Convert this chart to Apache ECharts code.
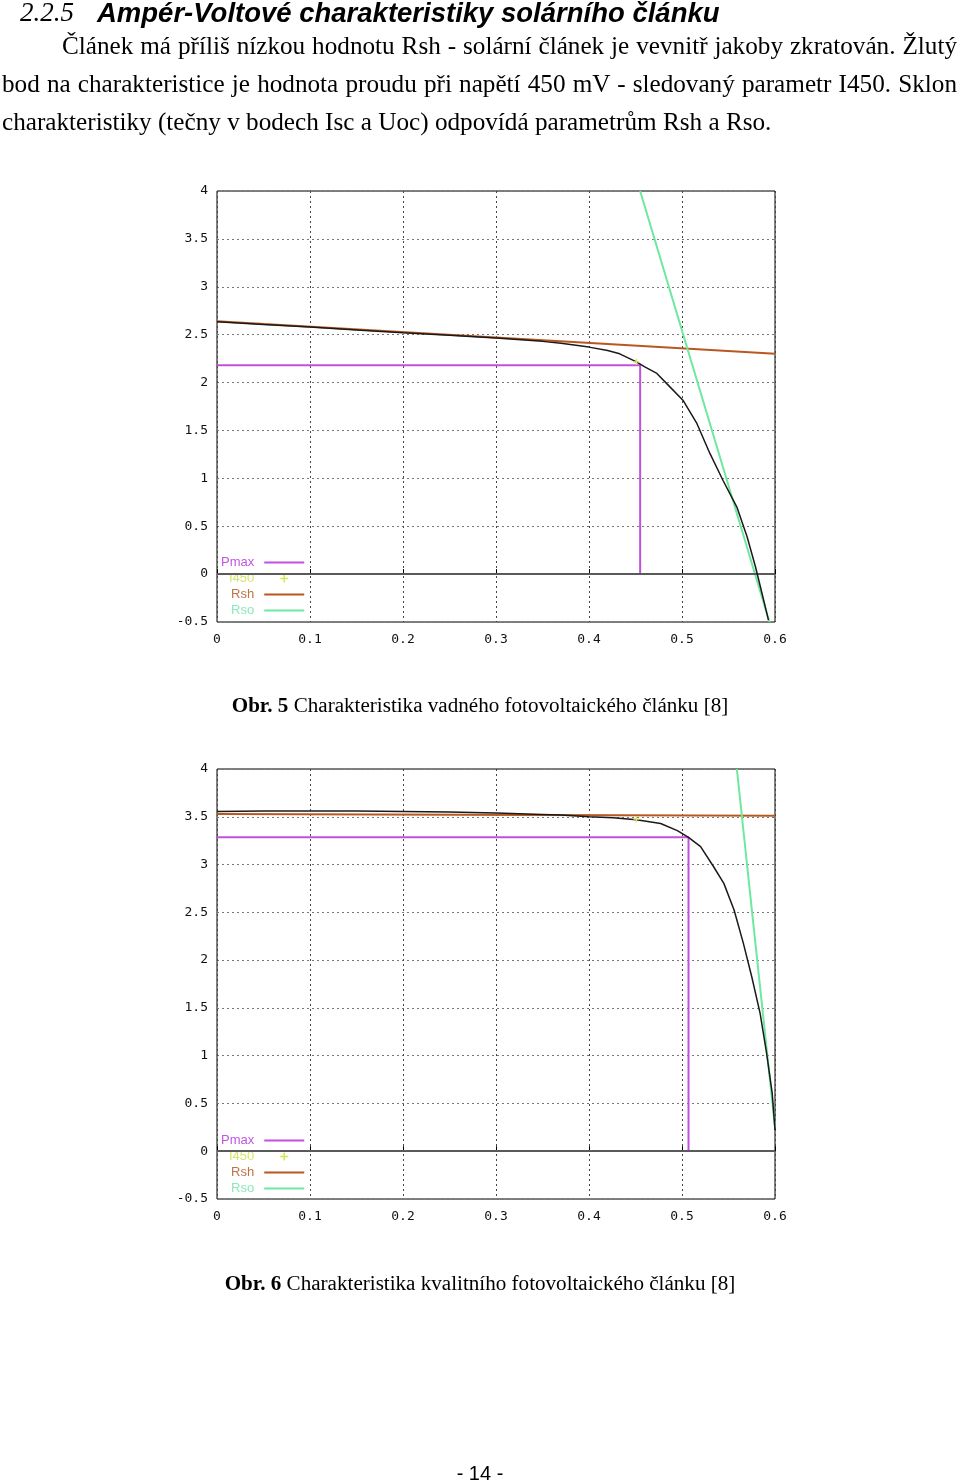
<!DOCTYPE html>
<html><head><meta charset="utf-8">
<script src="https://cdn.jsdelivr.net/npm/echarts@6/dist/echarts.min.js"></script>
<style>
html,body{margin:0;padding:0;background:#fff;width:960px;height:1483px;overflow:hidden;}
#chart{position:absolute;left:0;top:0;width:960px;height:1483px;}
.t{position:absolute;white-space:nowrap;color:#000;}
.serif{font-family:"Liberation Serif","Times New Roman",serif;}
.sans{font-family:"Liberation Sans",Arial,sans-serif;}
.j{text-align:justify;text-align-last:justify;white-space:normal;}
</style></head><body>
<div id="chart"></div>
<div class="t serif" style="left:20px;top:-1px;font-size:27px;line-height:27px;font-style:italic;">2.2.5</div>
<div class="t sans" style="left:97px;top:-1px;font-size:27.5px;line-height:27px;font-style:italic;font-weight:bold;">Ampér-Voltové charakteristiky solárního článku</div>
<div class="t serif j" style="left:62px;width:895px;top:27px;font-size:25.2px;line-height:38px;">Článek má příliš nízkou hodnotu Rsh - solární článek je vevnitř jakoby zkratován. Žlutý</div>
<div class="t serif j" style="left:2px;width:955px;top:65px;font-size:25.2px;line-height:38px;">bod na charakteristice je hodnota proudu při napětí 450 mV - sledovaný parametr I450. Sklon</div>
<div class="t serif" style="left:2px;top:103px;font-size:25.2px;line-height:38px;">charakteristiky (tečny v bodech Isc a Uoc) odpovídá parametrům Rsh a Rso.</div>
<div class="t serif" style="left:0;width:960px;text-align:center;top:693px;font-size:21.1px;line-height:24px;"><b>Obr. 5</b> Charakteristika vadného fotovoltaického článku [8]</div>
<div class="t serif" style="left:0;width:960px;text-align:center;top:1271px;font-size:21.1px;line-height:24px;"><b>Obr. 6</b> Charakteristika kvalitního fotovoltaického článku [8]</div>
<div class="t sans" style="left:0;width:960px;text-align:center;top:1461px;font-size:20px;line-height:24px;">- 14 -</div>
<script>
// ---- Obr. 5 (defective cell) ----
const c1V = [0, 0.05, 0.1, 0.15, 0.2, 0.25, 0.3, 0.35, 0.37, 0.4, 0.42, 0.433, 0.451, 0.46, 0.473, 0.487, 0.501, 0.516, 0.53, 0.544, 0.559, 0.57, 0.579, 0.586, 0.593];
const c1I = [2.635, 2.605, 2.58, 2.55, 2.52, 2.495, 2.465, 2.43, 2.41, 2.37, 2.335, 2.30, 2.216, 2.164, 2.095, 1.955, 1.816, 1.573, 1.26, 0.98, 0.70, 0.39, 0.077, -0.20, -0.48];
const c1RshV = [0, 0.6];
const c1RshI = [2.64, 2.30];
const c1RsoV = [0.455, 0.594];
const c1RsoI = [4.0, -0.5];
const c1PmaxV = [0, 0.455, 0.455];
const c1PmaxI = [2.18, 2.18, 0];
const c1I450V = [0.451];
const c1I450I = [2.216];

// ---- Obr. 6 (good cell) ----
const c2V = [0, 0.05, 0.1, 0.15, 0.2, 0.25, 0.3, 0.35, 0.37, 0.4, 0.426, 0.451, 0.477, 0.495, 0.507, 0.52, 0.534, 0.545, 0.556, 0.566, 0.575, 0.584, 0.591, 0.597, 0.6];
const c2I = [3.555, 3.56, 3.56, 3.56, 3.555, 3.55, 3.54, 3.525, 3.518, 3.50, 3.49, 3.47, 3.43, 3.355, 3.285, 3.187, 2.977, 2.803, 2.524, 2.175, 1.826, 1.443, 1.024, 0.606, 0.222];
const c2RshV = [0, 0.6];
const c2RshI = [3.53, 3.51];
const c2RsoV = [0.559, 0.6];
const c2RsoI = [4.0, 0.25];
const c2PmaxV = [0, 0.507, 0.507];
const c2PmaxI = [3.285, 3.285, 0];
const c2I450V = [0.451];
const c2I450I = [3.475];

// axis settings
const xMin = 0, xMax = 0.6, xStep = 0.1;
const yMin = -0.5, yMax = 4, yStep = 0.5;
const legendNames = ['Pmax', 'I450', 'Rsh', 'Rso'];

const COL = { curve: '#1a1a1a', rsh: '#b8571f', rso: '#6ee89e', pmax: '#c150e0', i450: '#d6e850' };
const LEG_TXT = { Pmax: '#c255e2', I450: '#d4e66a', Rsh: '#c07446', Rso: '#8ee8bc' };

function zip(a, b) { return a.map((v, i) => [v, b[i]]); }

function seriesFor(idx, d) {
  const base = { type: 'line', xAxisIndex: idx, yAxisIndex: idx, symbol: 'none', animation: false, silent: true };
  return [
    Object.assign({}, base, { name: 'Pmax', data: zip(d.pmV, d.pmI), lineStyle: { color: COL.pmax, width: 2 }, itemStyle: { color: COL.pmax }, z: 3 }),
    Object.assign({}, base, { name: 'Rsh', data: zip(d.rshV, d.rshI), lineStyle: { color: COL.rsh, width: 2 }, itemStyle: { color: COL.rsh }, z: 4 }),
    Object.assign({}, base, { name: 'Rso', data: zip(d.rsoV, d.rsoI), lineStyle: { color: COL.rso, width: 2 }, itemStyle: { color: COL.rso }, z: 4 }),
    Object.assign({}, base, { name: 'I-V', data: zip(d.v, d.i), lineStyle: { color: COL.curve, width: 1.5 }, itemStyle: { color: COL.curve }, z: 5,
      markLine: { silent: true, symbol: 'none', label: { show: false }, animation: false,
        lineStyle: { color: '#5a5a5a', width: 2, type: 'solid' }, data: [{ yAxis: 0 }] } }),
    Object.assign({}, base, { name: 'I450', data: zip(d.iV, d.iI), symbol: 'path://M2,0 L3,0 L3,2 L5,2 L5,3 L3,3 L3,5 L2,5 L2,3 L0,3 L0,2 L2,2 Z',
      symbolSize: 6, showSymbol: true, lineStyle: { width: 0 }, itemStyle: { color: COL.i450 }, z: 6 })
  ];
}

function axisPair(idx) {
  const lbl = { fontFamily: 'DejaVu Sans Mono', fontSize: 13, color: '#111' };
  return {
    x: { type: 'value', gridIndex: idx, min: xMin, max: xMax, interval: xStep,
      axisLine: { show: false }, axisTick: { show: true, inside: true, length: 5, lineStyle: { color: '#000' } },
      axisLabel: Object.assign({ margin: 11 }, lbl),
      splitLine: { show: true, lineStyle: { color: '#444', width: 1, type: [2, 3] } } },
    y: { type: 'value', gridIndex: idx, min: yMin, max: yMax, interval: yStep,
      axisLine: { show: false }, axisTick: { show: false },
      axisLabel: Object.assign({ margin: 9 }, lbl),
      splitLine: { show: true, lineStyle: { color: '#777', width: 1, type: [2, 3] } } }
  };
}

function legendFor(top) {
  return { orient: 'vertical', left: 221, top: top, padding: 0, itemWidth: 40, itemHeight: 10, itemGap: 3,
    align: 'right', selectedMode: false,
    textStyle: { fontFamily: 'Liberation Sans', fontSize: 13, padding: [0, 5, 0, 0] },
    data: legendNames.map(n => ({
      name: n,
      textStyle: { color: LEG_TXT[n] },
      itemStyle: n === 'I450' ? { color: COL.i450 } : { opacity: 0 },
      lineStyle: n === 'I450' ? { opacity: 0 } : {}
    })) };
}

const a0 = axisPair(0), a1 = axisPair(1);
const chart = echarts.init(document.getElementById('chart'), null, { renderer: 'canvas' });
chart.setOption({
  animation: false,
  backgroundColor: 'transparent',
  grid: [
    { left: 217, top: 191, width: 558, height: 431, show: true, borderColor: '#000', borderWidth: 1, backgroundColor: 'transparent' },
    { left: 217, top: 769, width: 558, height: 430, show: true, borderColor: '#000', borderWidth: 1, backgroundColor: 'transparent' }
  ],
  xAxis: [a0.x, a1.x],
  yAxis: [a0.y, a1.y],
  legend: [legendFor(556), legendFor(1134)],
  series: seriesFor(0, { v: c1V, i: c1I, rshV: c1RshV, rshI: c1RshI, rsoV: c1RsoV, rsoI: c1RsoI, pmV: c1PmaxV, pmI: c1PmaxI, iV: c1I450V, iI: c1I450I })
    .concat(seriesFor(1, { v: c2V, i: c2I, rshV: c2RshV, rshI: c2RshI, rsoV: c2RsoV, rsoI: c2RsoI, pmV: c2PmaxV, pmI: c2PmaxI, iV: c2I450V, iI: c2I450I }))
});
</script>
</body></html>
